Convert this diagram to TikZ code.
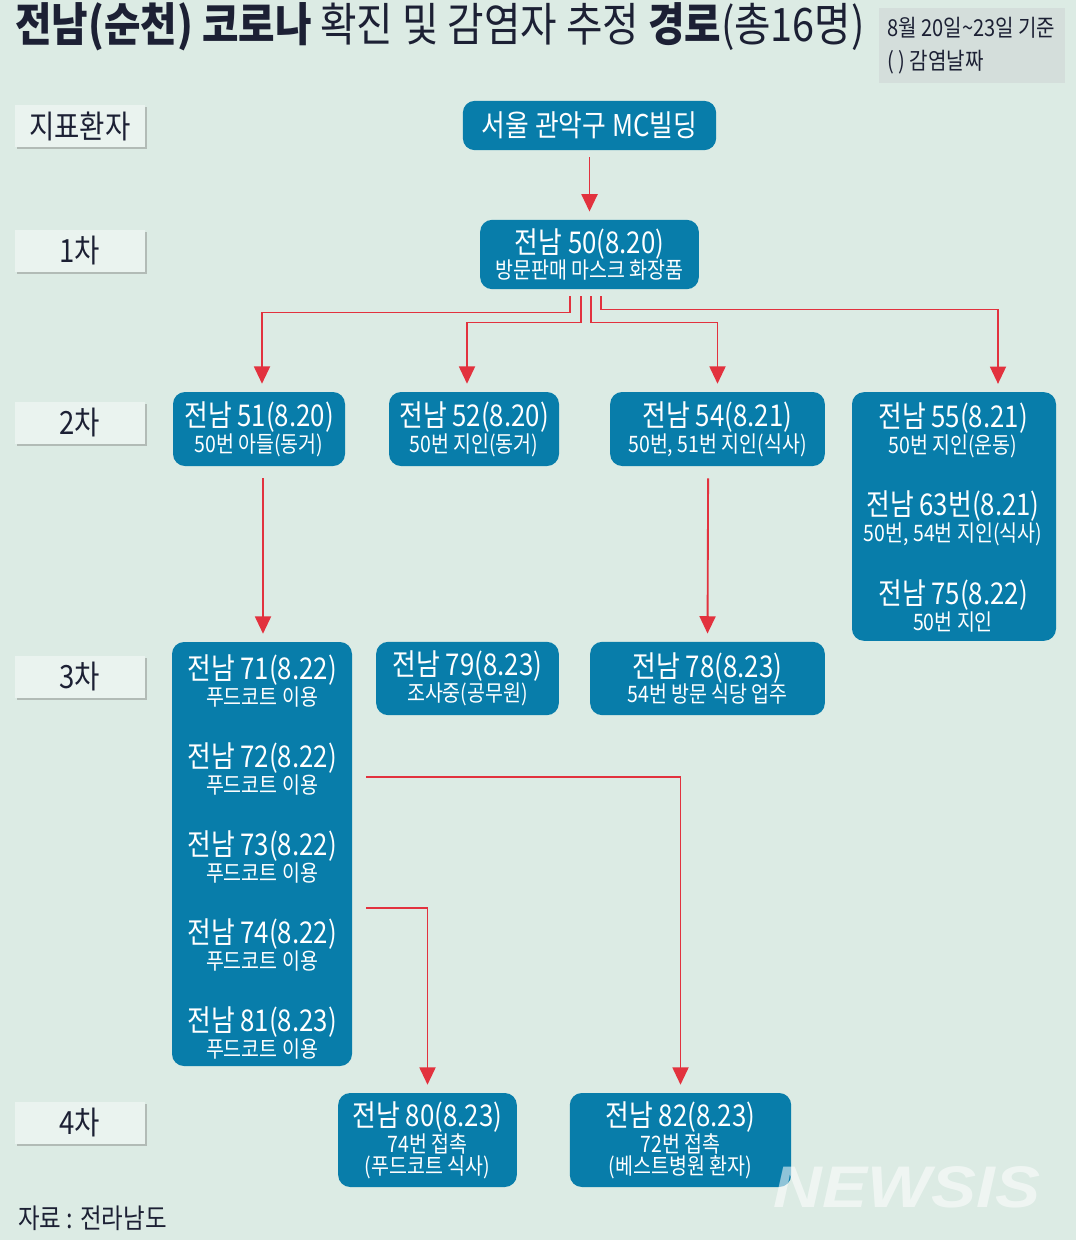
\documentclass[tikz,border=0pt]{standalone}
\usepackage{fontspec}
\usepackage{xcolor}
\usetikzlibrary{arrows.meta, positioning, shadows}
\setmainfont{Noto Sans CJK KR}
\newfontfamily\krfont[FakeStretch=0.86]{Noto Sans CJK KR}
\newfontfamily\newsfont[FakeStretch=1.15]{Liberation Sans}
\definecolor{bgcolor}{RGB}{220, 235, 228}
\definecolor{boxcolor}{RGB}{8, 125, 170}
\definecolor{linkcolor}{RGB}{226, 50, 62}
\definecolor{inkcolor}{RGB}{28, 32, 52}
\definecolor{notecolor}{RGB}{212, 222, 219}
\newcommand{\mainline}[1]{{\fontsize{22.5}{20}\selectfont #1}}
\newcommand{\subline}[1]{{\fontsize{17}{19}\selectfont #1}}

\begin{document}
\begin{tikzpicture}[
    x=0.75pt, y=-0.75pt,
    case/.style={fill=boxcolor, rounded corners=9pt, text=white, align=center, font=\krfont, inner sep=0pt},
    item/.style={text=white, align=center, font=\krfont, inner sep=0pt},
    stage/.style={fill=bgcolor!60!white, minimum width=97.5pt, minimum height=31.5pt, inner sep=0pt, text=inkcolor, font=\krfont\fontsize{24}{24}\selectfont, drop shadow={shadow xshift=1.5pt, shadow yshift=-1.5pt, fill=black!55, opacity=0.4}},
    link/.style={-{Triangle[length=13pt, width=12pt]}, linkcolor, line width=1.4pt, shorten >=6pt}
]
    \useasboundingbox[fill=bgcolor] (0,0) rectangle (1076,1240);

    % Title and note
    \node[anchor=west, inner sep=0pt, text=inkcolor, font=\krfont\fontsize{34.6}{38}\selectfont] (title) at (15,27) {\textbf{전남(순천) 코로나} 확진 및 감염자 추정 \textbf{경로}(총16명)};
    \node[fill=notecolor, minimum width=139.5pt, minimum height=56pt, inner sep=0pt] (note) at (972,45.5) {};
    \node[anchor=west, inner sep=0pt, text=inkcolor, font=\krfont\fontsize{17.5}{20}\selectfont] (notedate) at (887,28) {8월 20일\textasciitilde23일 기준};
    \node[anchor=west, inner sep=0pt, text=inkcolor, font=\krfont\fontsize{17.5}{20}\selectfont] (notekey) at (887,62) {( ) 감염날짜};

    % Stage labels
    \node[stage] (s0) at (80,126) {지표환자};
    \node[stage] (s1) at (80,251) {1차};
    \node[stage] (s2) at (80,423) {2차};
    \node[stage] (s3) at (80,677) {3차};
    \node[stage] (s4) at (80,1123) {4차};

    % Nodes - top
    \node[case, minimum width=190pt, minimum height=37pt, font=\krfont\fontsize{22.5}{24}\selectfont] (mc) at (589.5,125.5) {서울 관악구 MC빌딩};
    \node[case, minimum width=164pt, minimum height=52pt] (n50) at (589.5,254.5) {\mainline{전남 50(8.20)}\\\subline{방문판매 마스크 화장품}};

    % Nodes - second row
    \node[case, minimum width=129pt, minimum height=55.5pt] (n51) at (259,429) {\mainline{전남 51(8.20)}\\\subline{50번 아들(동거)}};
    \node[case, minimum width=127.5pt, minimum height=55.5pt] (n52) at (474,429) {\mainline{전남 52(8.20)}\\\subline{50번 지인(동거)}};
    \node[case, minimum width=161pt, minimum height=55.5pt] (n54) at (717.5,429) {\mainline{전남 54(8.21)}\\\subline{50번, 51번 지인(식사)}};
    \node[case, minimum width=153pt, minimum height=186.5pt] (g55) at (954,516.5) {};
    \node[item] (n55) at (953,430) {\mainline{전남 55(8.21)}\\\subline{50번 지인(운동)}};
    \node[item] (n63) at (953,518) {\mainline{전남 63번(8.21)}\\\subline{50번, 54번 지인(식사)}};
    \node[item] (n75) at (953,606) {\mainline{전남 75(8.22)}\\\subline{50번 지인}};

    % Nodes - third row
    \node[case, minimum width=135pt, minimum height=318pt] (g71) at (262,854) {};
    \node[item] (n71) at (262,681) {\mainline{전남 71(8.22)}\\\subline{푸드코트 이용}};
    \node[item] (n72) at (262,769) {\mainline{전남 72(8.22)}\\\subline{푸드코트 이용}};
    \node[item] (n73) at (262,857) {\mainline{전남 73(8.22)}\\\subline{푸드코트 이용}};
    \node[item] (n74) at (262,945) {\mainline{전남 74(8.22)}\\\subline{푸드코트 이용}};
    \node[item] (n81) at (262,1033) {\mainline{전남 81(8.23)}\\\subline{푸드코트 이용}};
    \node[case, minimum width=137pt, minimum height=55pt] (n79) at (467.5,678.5) {\mainline{전남 79(8.23)}\\\subline{조사중(공무원)}};
    \node[case, minimum width=176pt, minimum height=55pt] (n78) at (707.5,678.5) {\mainline{전남 78(8.23)}\\\subline{54번 방문 식당 업주}};

    % Nodes - fourth row
    \node[case, minimum width=134pt, minimum height=70.5pt] (n80) at (427.5,1140) {\mainline{전남 80(8.23)}\\\subline{74번 접촉}\\\subline{(푸드코트 식사)}};
    \node[case, minimum width=166pt, minimum height=70.5pt] (n82) at (680.5,1140) {\mainline{전남 82(8.23)}\\\subline{72번 접촉}\\\subline{(베스트병원 환자)}};

    % Source and watermark
    \node[anchor=west, inner sep=0pt, text=inkcolor, font=\krfont\fontsize{20.5}{24}\selectfont] (source) at (18,1218) {자료 : 전라남도};
    \node[inner sep=0pt, text=white, opacity=0.55, font=\newsfont\bfseries\itshape\fontsize{44}{48}\selectfont] (newsis) at (907,1187) {NEWSIS};

    % Free ends beside the group box
    \coordinate (c72) at (366,777);
    \coordinate (c74) at (366,908);

    % Arrows
    \draw[link, shorten <=5pt] (mc) -- (n50);
    \draw[link, shorten <=5pt] ([xshift=-14.5pt]n50.south) |- ++(0,23) -| ([xshift=2.25pt]n51.north);
    \draw[link, shorten <=5pt] ([xshift=-6.5pt]n50.south) |- ++(0,33) -| ([xshift=-5.25pt]n52.north);
    \draw[link, shorten <=5pt] ([xshift=1pt]n50.south) |- ++(0,33) -| (n54.north);
    \draw[link, shorten <=5pt] ([xshift=8.5pt]n50.south) |- ++(0,20) -| ([xshift=33pt]g55.north);
    \draw[link, shorten <=9pt] ([xshift=3pt]n51.south) -- ([xshift=0.75pt]g71.north);
    \draw[link, shorten <=9pt] ([xshift=-7pt]n54.south) -- (n78.north);
    \draw[link] (c72) -| (n82);
    \draw[link] (c74) -| (n80);
\end{tikzpicture}
\end{document}
